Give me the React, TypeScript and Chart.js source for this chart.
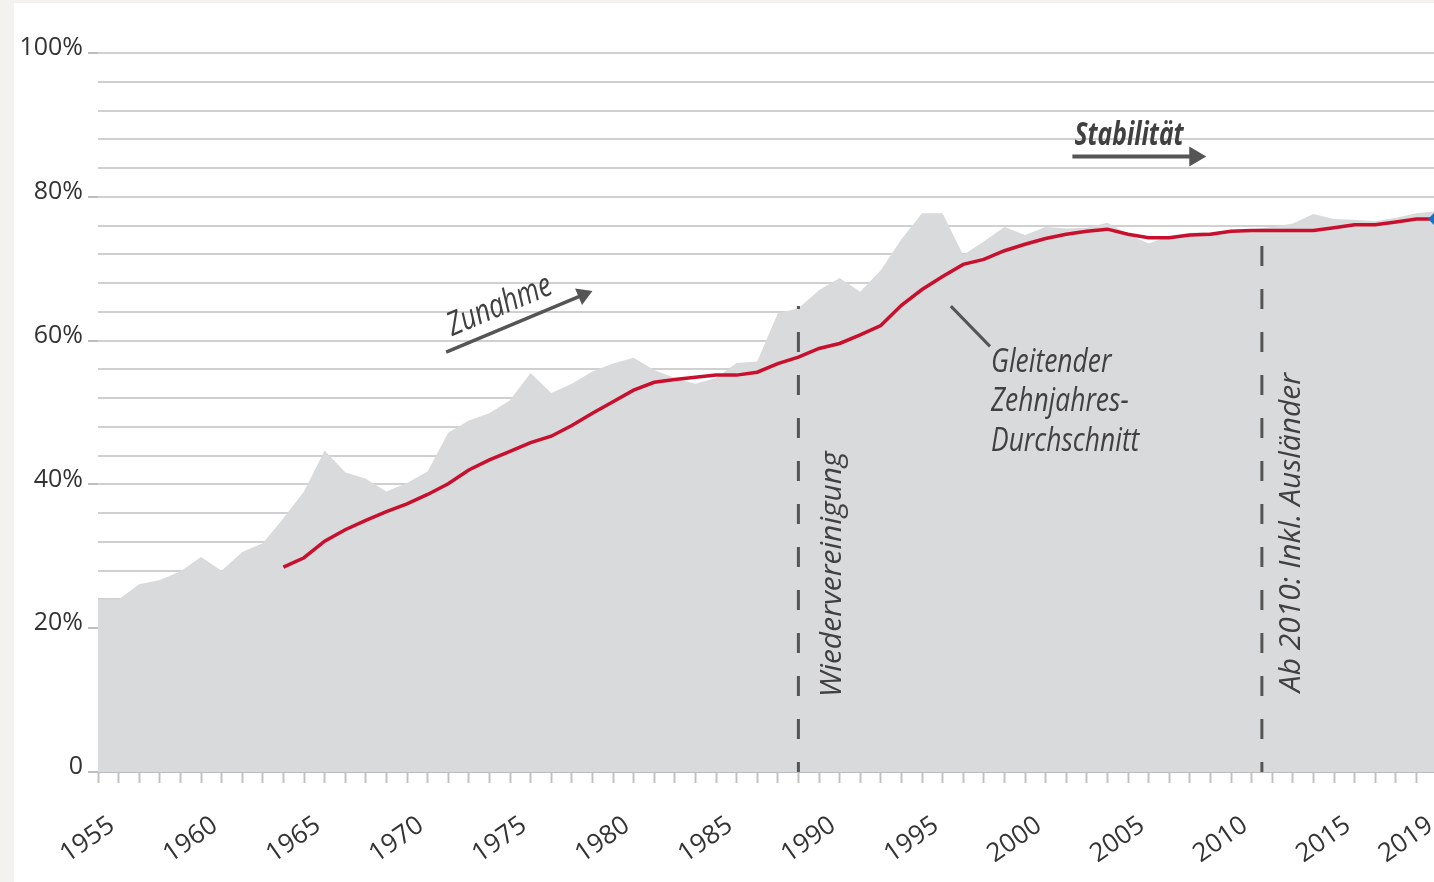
import React, { useEffect, useRef } from "react";
import { Chart, registerables } from "chart.js";

Chart.register(...registerables);

// ---- data -------------------------------------------------------------
const years = [
  1955, 1956, 1957, 1958, 1959, 1960, 1961, 1962, 1963, 1964,
  1965, 1966, 1967, 1968, 1969, 1970, 1971, 1972, 1973, 1974,
  1975, 1976, 1977, 1978, 1979, 1980, 1981, 1982, 1983, 1984,
  1985, 1986, 1987, 1988, 1989, 1990, 1991, 1992, 1993, 1994,
  1995, 1996, 1997, 1998, 1999, 2000, 2001, 2002, 2003, 2004,
  2005, 2006, 2007, 2008, 2009, 2010, 2011, 2012, 2013, 2014,
  2015, 2016, 2017, 2018, 2019, 2020,
];

const annualShare = [
  24.0, 24.0, 26.1, 26.7, 27.9, 29.9, 28.0, 30.6, 31.8, 35.3,
  39.0, 44.7, 41.7, 40.8, 39.0, 40.2, 41.8, 47.2, 48.9, 49.9,
  51.7, 55.5, 52.7, 54.0, 55.7, 56.8, 57.6, 55.9, 54.8, 54.0,
  54.8, 56.9, 57.1, 63.8, 64.5, 67.0, 68.7, 66.8, 69.8, 74.1,
  77.7, 77.7, 71.9, 73.8, 75.8, 74.7, 75.8, 75.6, 75.7, 76.4,
  74.8, 73.5, 74.5, 75.0, 75.1, 75.3, 75.5, 75.8, 76.3, 77.6,
  76.9, 76.8, 76.6, 77.1, 77.7, 78.0,
];

const movingAverage = [
  null, null, null, null, null, null, null, null, null, 28.5,
  29.8, 32.1, 33.7, 35.0, 36.2, 37.3, 38.6, 40.1, 42.0, 43.4,
  44.6, 45.8, 46.7, 48.2, 49.9, 51.5, 53.1, 54.2, 54.6, 54.9,
  55.2, 55.2, 55.6, 56.8, 57.7, 58.9, 59.6, 60.8, 62.1, 64.9,
  67.1, 68.9, 70.6, 71.3, 72.5, 73.4, 74.2, 74.8, 75.2, 75.5,
  74.8, 74.3, 74.3, 74.7, 74.8, 75.2, 75.3, 75.3, 75.3, 75.3,
  75.7, 76.1, 76.1, 76.5, 76.9, 76.9,
];

const xLabelYears = [1955, 1960, 1965, 1970, 1975, 1980, 1985, 1990, 1995, 2000, 2005, 2010, 2015, 2019];
const yGridValues = [0, 4, 8, 12, 16, 20, 24, 28, 32, 36, 40, 44, 48, 52, 56, 60, 64, 68, 72, 76, 80, 84, 88, 92, 96, 100];
const yLabelValues = [0, 20, 40, 60, 80, 100];

// annotation anchors (data units)
const reunificationLine = { year: 1989, top: 64.8 };
const foreignersLine = { year: 2011.5, top: 75.0 };

const TEXT_COLOR = "#404040";
const ANNOT_FONT = '"Open Sans", sans-serif';
const AXIS_FONT = '"Open Sans", sans-serif';
const CONDENSE = 0.8;

function drawArrow(
  ctx: CanvasRenderingContext2D,
  x1: number, y1: number, x2: number, y2: number,
  headLen: number, headHalf: number, width: number
) {
  const a = Math.atan2(y2 - y1, x2 - x1);
  const bx = x2 - headLen * Math.cos(a);
  const by = y2 - headLen * Math.sin(a);
  ctx.beginPath();
  ctx.lineWidth = width;
  ctx.moveTo(x1, y1);
  ctx.lineTo(bx + Math.cos(a), by + Math.sin(a));
  ctx.stroke();
  ctx.beginPath();
  ctx.moveTo(x2, y2);
  ctx.lineTo(bx + headHalf * Math.sin(a), by - headHalf * Math.cos(a));
  ctx.lineTo(bx - headHalf * Math.sin(a), by + headHalf * Math.cos(a));
  ctx.closePath();
  ctx.fill();
}

function condensedText(ctx: CanvasRenderingContext2D, text: string, x: number, y: number, sx: number) {
  ctx.save();
  ctx.translate(x, y);
  ctx.scale(sx, 1);
  ctx.fillText(text, 0, 0);
  ctx.restore();
}

const annotationPlugin = {
  id: "annotations",
  beforeDatasetDraw(chart: any, args: any) {
    if (args.index !== 1) return;
    const { ctx, scales } = chart;
    const X = (v: number) => scales.x.getPixelForValue(v);
    const Y = (v: number) => scales.y.getPixelForValue(v);
    ctx.save();
    ctx.strokeStyle = "#555555";
    ctx.lineWidth = 3;
    ctx.setLineDash([20, 23]);
    ctx.lineDashOffset = 10;
    for (const l of [reunificationLine, foreignersLine]) {
      ctx.beginPath();
      ctx.moveTo(X(l.year), Y(0));
      ctx.lineTo(X(l.year), Y(l.top));
      ctx.stroke();
    }
    ctx.restore();
  },
  afterDatasetsDraw(chart: any) {
    const { ctx, scales } = chart;
    const X = (v: number) => scales.x.getPixelForValue(v);
    const Y = (v: number) => scales.y.getPixelForValue(v);
    ctx.save();
    ctx.strokeStyle = "#555555";
    ctx.textBaseline = "alphabetic";
    ctx.textAlign = "left";

    // Zunahme
    ctx.fillStyle = "#555555";
    drawArrow(ctx, X(1971.9), Y(58.4), X(1979.0), Y(66.9), 15, 9, 3.5);
    ctx.save();
    ctx.translate(X(1972.2), Y(60.6));
    ctx.rotate(-23 * Math.PI / 180);
    ctx.fillStyle = TEXT_COLOR;
    ctx.font = `italic 33px ${ANNOT_FONT}`;
    condensedText(ctx, "Zunahme", 0, 0, CONDENSE);
    ctx.restore();

    // Stabilität
    ctx.fillStyle = TEXT_COLOR;
    ctx.font = `italic bold 32px ${ANNOT_FONT}`;
    condensedText(ctx, "Stabilität", X(2002.4), Y(87.2), 0.77);
    ctx.fillStyle = "#555555";
    drawArrow(ctx, X(2002.3), Y(85.6), X(2008.8), Y(85.6), 17, 10, 4);

    // leader + moving average label
    ctx.beginPath();
    ctx.lineWidth = 3;
    ctx.moveTo(X(1996.4), Y(64.8));
    ctx.lineTo(X(1998.3), Y(59.2));
    ctx.stroke();
    ctx.fillStyle = TEXT_COLOR;
    ctx.font = `italic 33px ${ANNOT_FONT}`;
    condensedText(ctx, "Gleitender", X(1998.35), Y(55.6), CONDENSE);
    condensedText(ctx, "Zehnjahres-", X(1998.35), Y(50.2), CONDENSE);
    condensedText(ctx, "Durchschnitt", X(1998.35), Y(44.6), CONDENSE);

    // vertical labels
    ctx.font = `italic 30px ${ANNOT_FONT}`;
    ctx.save();
    ctx.translate(X(1991.07), Y(10.4));
    ctx.rotate(-Math.PI / 2);
    ctx.fillText("Wiedervereinigung", 0, 0);
    ctx.restore();

    ctx.save();
    ctx.translate(X(2013.35), Y(11.1));
    ctx.rotate(-Math.PI / 2);
    ctx.fillText("Ab 2010: Inkl. Ausländer", 0, 0);
    ctx.restore();

    ctx.restore();
  },
};

export default function App() {
  const canvasRef = useRef<HTMLCanvasElement | null>(null);

  useEffect(() => {
    document.documentElement.style.overflow = "hidden";
    document.body.style.overflow = "hidden";
    const canvas = canvasRef.current;
    if (!canvas) return;
    const lastIndex = years.length - 1;
    const chart = new Chart(canvas, {
      type: "line",
      data: {
        labels: years,
        datasets: [
          {
            label: "Jahreswert",
            data: years.map((y, i) => ({ x: y, y: annualShare[i] })),
            fill: "origin",
            backgroundColor: "#d9dadb",
            borderWidth: 0,
            borderColor: "rgba(0,0,0,0)",
            pointRadius: 0,
            tension: 0,
            order: 2,
          },
          {
            label: "Gleitender Zehnjahres-Durchschnitt",
            data: years.map((y, i) => ({ x: y, y: movingAverage[i] as any })),
            fill: false,
            borderColor: "#c8102e",
            borderWidth: 3.5,
            tension: 0,
            spanGaps: false,
            pointRadius: (c: any) => (c.dataIndex === lastIndex ? 9 : 0),
            pointStyle: "rectRot",
            pointBackgroundColor: "#1b6fc0",
            pointBorderWidth: 0,
            clip: false as any,
            order: 1,
          },
        ],
      },
      options: {
        responsive: false,
        animation: false,
        devicePixelRatio: 1,
        layout: { autoPadding: false, padding: { top: 53, left: 0, right: 0, bottom: 0 } },
        plugins: { legend: { display: false }, tooltip: { enabled: false } },
        scales: {
          x: {
            type: "linear",
            min: years[0],
            max: years[years.length - 1],
            z: 1,
            afterBuildTicks: (scale: any) => {
              scale.ticks = years.map((v) => ({ value: v }));
            },
            afterFit: (scale: any) => {
              scale.height = 110;
              scale.paddingLeft = 0;
              scale.paddingRight = 0;
            },
            ticks: {
              autoSkip: false,
              minRotation: 35,
              maxRotation: 35,
              padding: 27,
              labelOffset: 14,
              color: "#333333",
              font: { family: AXIS_FONT, size: 26 },
              callback: (v: any) => (xLabelYears.includes(Number(v)) ? String(v) : ""),
            },
            grid: {
              drawOnChartArea: false,
              drawTicks: true,
              tickLength: 11,
              tickColor: "#c2c2c2",
              tickWidth: 2,
            },
            border: { display: true, color: "#bdbdbd", width: 2 },
          },
          y: {
            type: "linear",
            min: 0,
            max: 100,
            afterBuildTicks: (scale: any) => {
              scale.ticks = yGridValues.map((v) => ({ value: v }));
            },
            afterFit: (scale: any) => {
              scale.width = 98;
            },
            ticks: {
              autoSkip: false,
              padding: 5,
              labelOffset: -5,
              color: "#333333",
              font: { family: AXIS_FONT, size: 25 },
              callback: (v: any) => {
                const n = Number(v);
                if (!yLabelValues.includes(n)) return "";
                return n === 0 ? "0" : `${n}%`;
              },
            },
            grid: {
              color: "#d0d0d0",
              lineWidth: 2,
              drawTicks: true,
              tickLength: 10,
              tickWidth: 2,
              tickColor: (c: any) =>
                c.tick && yLabelValues.includes(c.tick.value) ? "#bdbdbd" : "rgba(0,0,0,0)",
            },
            border: { display: false },
          },
        },
      },
      plugins: [annotationPlugin],
    } as any);
    return () => chart.destroy();
  }, []);

  return (
    <div
      style={{
        position: "fixed",
        left: 0,
        top: 0,
        width: 1434,
        height: 882,
        background: "#f3f2ee",
        overflow: "hidden",
      }}
    >
      <div
        style={{
          position: "absolute",
          left: 14,
          top: 3,
          width: 1420,
          height: 879,
          background: "#ffffff",
        }}
      />
      <canvas
        ref={canvasRef}
        width={1437}
        height={882}
        style={{ position: "absolute", left: 0, top: 0, width: 1437, height: 882 }}
      />
    </div>
  );
}
